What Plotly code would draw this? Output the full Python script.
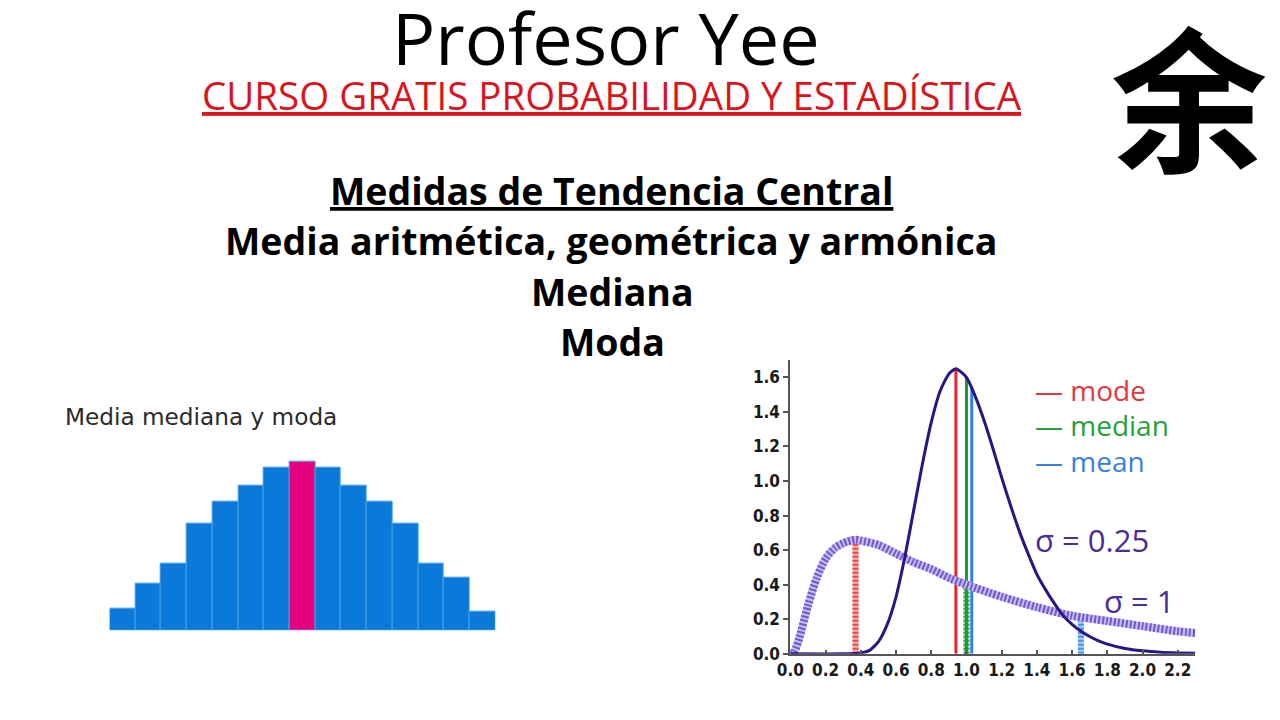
import plotly.graph_objects as go

W, H = 1280, 720


def px(x):
    return x / W


def py(y):
    return 1 - y / H


# ---------------- data ----------------
# Left histogram ("Media mediana y moda")
hist_bins = list(range(1, 16))
hist_freq = [22, 47, 67, 108, 130, 147, 165, 171, 165, 147, 130, 108, 67, 53, 19]
mode_bin = 8

# Right chart: log-normal densities
x_s025 = [0.0, 0.3, 0.4, 0.45, 0.5, 0.55, 0.6, 0.65, 0.7, 0.75, 0.8, 0.85, 0.9, 0.94,
          1.0, 1.05, 1.1, 1.15, 1.2, 1.25, 1.3, 1.35, 1.4, 1.45, 1.5, 1.55, 1.6, 1.65,
          1.7, 1.75, 1.8, 1.9, 2.0, 2.1, 2.2, 2.3]
y_s025 = [0.0, 0.0, 0.005, 0.02, 0.07, 0.17, 0.33, 0.56, 0.83, 1.10, 1.34, 1.52, 1.62, 1.65,
          1.60, 1.49, 1.35, 1.19, 1.02, 0.86, 0.71, 0.58, 0.46, 0.37, 0.29, 0.22, 0.17, 0.13,
          0.10, 0.075, 0.056, 0.031, 0.017, 0.009, 0.005, 0.003]

x_s1 = [0.0, 0.02, 0.05, 0.1, 0.15, 0.2, 0.25, 0.3, 0.37, 0.4, 0.5, 0.6, 0.7, 0.8, 0.9,
        1.0, 1.2, 1.4, 1.6, 1.8, 2.0, 2.2, 2.3]
y_s1 = [0.0, 0.01, 0.09, 0.28, 0.44, 0.55, 0.61, 0.64, 0.66, 0.655, 0.63, 0.58, 0.53, 0.49,
        0.44, 0.40, 0.33, 0.27, 0.22, 0.19, 0.16, 0.13, 0.12]

stat_names = ["mode", "median", "mean"]
stat_x_s025 = [0.94, 1.00, 1.03]
stat_y_s025 = [1.65, 1.60, 1.54]
stat_x_s1 = [0.37, 1.00, 1.65]
stat_y_s1 = [0.66, 0.40, 0.21]

sigma_labels = ["σ = 0.25", "σ = 1"]

# ---------------- styles ----------------
BAR_BLUE = "#0a79d9"
BAR_PINK = "#e5007d"
stat_solid = {"mode": "#e3252b", "median": "#1e9a32", "mean": "#2e82e2"}
stat_light = {"mode": "#f6b3b3", "median": "#a9dcb1", "mean": "#aacdf6"}
stat_dark = {"mode": "#ea4a4a", "median": "#34a848", "mean": "#4a94ea"}
legend_col = {"mode": "#e0383c", "median": "#26a038", "mean": "#3a80e0"}
CURVE_DARK = "#2b1585"
SIGMA_TXT = "#4a2e98"

fig = go.Figure()

# Histogram
bar_colors = [BAR_PINK if b == mode_bin else BAR_BLUE for b in hist_bins]
fig.add_trace(go.Bar(
    x=hist_bins, y=hist_freq, marker=dict(color=bar_colors, line=dict(color="#4aa0e6", width=1)),
    xaxis="x", yaxis="y", hoverinfo="skip"))

# Vertical stat lines for sigma = 1 (hatched look)
for name, xv, yv in zip(stat_names, stat_x_s1, stat_y_s1):
    fig.add_trace(go.Scatter(x=[xv, xv], y=[0, yv], mode="lines",
                             line=dict(color=stat_light[name], width=6),
                             xaxis="x2", yaxis="y2", hoverinfo="skip"))
    fig.add_trace(go.Scatter(x=[xv, xv], y=[0, yv], mode="lines",
                             line=dict(color=stat_dark[name], width=6, dash="2px,2px"),
                             xaxis="x2", yaxis="y2", hoverinfo="skip"))

# Vertical stat lines for sigma = 0.25 (solid)
for name, xv, yv in zip(stat_names, stat_x_s025, stat_y_s025):
    fig.add_trace(go.Scatter(x=[xv, xv], y=[0, yv], mode="lines",
                             line=dict(color=stat_solid[name], width=3),
                             xaxis="x2", yaxis="y2", hoverinfo="skip"))

# sigma = 1 curve (hatched)
fig.add_trace(go.Scatter(x=x_s1, y=y_s1, mode="lines",
                         line=dict(color="#c8bcf2", width=8, shape="spline", smoothing=0.8),
                         xaxis="x2", yaxis="y2", hoverinfo="skip"))
fig.add_trace(go.Scatter(x=x_s1, y=y_s1, mode="lines",
                         line=dict(color="#7258d2", width=8, shape="spline", smoothing=0.8,
                                   dash="2px,2px"),
                         xaxis="x2", yaxis="y2", hoverinfo="skip"))

# sigma = 0.25 curve
fig.add_trace(go.Scatter(x=x_s025, y=y_s025, mode="lines",
                         line=dict(color=CURVE_DARK, width=3, shape="spline", smoothing=0.6),
                         xaxis="x2", yaxis="y2", hoverinfo="skip"))

tick_font = dict(family="DejaVu Sans Condensed, DejaVu Sans", size=17, color="#1a1a1a",
                 weight="bold")

fig.update_layout(
    width=W, height=H,
    margin=dict(l=0, r=0, t=0, b=0),
    paper_bgcolor="white", plot_bgcolor="white",
    showlegend=False,
    bargap=0,
    xaxis=dict(domain=[px(96.7), px(486.7)], range=[0.5, 15.5], visible=False),
    yaxis=dict(domain=[py(639), py(639 - 180)], range=[0, 180], visible=False),
    xaxis2=dict(domain=[px(785), px(785 + 2.3 * 178)], range=[0, 2.3], anchor="y2",
                showline=True, linecolor="#555", linewidth=2, showgrid=False, zeroline=False,
                ticks="inside", ticklen=4, tickcolor="#555", tickwidth=2,
                tick0=0, dtick=0.2, tickformat=".1f", tickfont=tick_font),
    yaxis2=dict(domain=[py(663), py(663 - 1.7 * 175.2)], range=[0, 1.7], anchor="x2",
                showline=True, linecolor="#555", linewidth=2, showgrid=False, zeroline=False,
                ticks="outside", ticklen=5, tickcolor="#555", tickwidth=2,
                tick0=0, dtick=0.2, tickformat=".1f", tickfont=tick_font),
)

ann = []


def text(x, y, s, size, color="black", family="Open Sans", weight="normal", xanchor="center"):
    ann.append(dict(x=px(x), y=py(y), xref="paper", yref="paper", text=s, showarrow=False,
                    xanchor=xanchor, yanchor="middle",
                    font=dict(family=family, size=size, color=color, weight=weight)))


text(599, 38, "Profesor Yee", 72)
text(605, 96, "<u>CURSO GRATIS PROBABILIDAD Y ESTADÍSTICA</u>", 38.5, color="#d9141c")
text(604, 193, "<u>Medidas de Tendencia Central</u>", 37.5, weight="bold")
text(604, 244, "Media aritmética, geométrica y armónica", 37.5, weight="bold")
text(605, 296, "Mediana", 37.5, weight="bold")
text(605, 346, "Moda", 37.5, weight="bold")
text(50, 422, "Media mediana y moda", 23.2, color="#2a2a2a", family="DejaVu Sans", xanchor="left")
text(1188, 93, "余", 156, family="Noto Sans CJK SC", weight="bold")

for i, name in enumerate(stat_names):
    text(1030, 395 + i * 36, "— " + name, 28, color=legend_col[name], xanchor="left")

text(1030, 548, sigma_labels[0], 31, color=SIGMA_TXT, xanchor="left")
text(1100, 609, sigma_labels[1], 31, color=SIGMA_TXT, xanchor="left")

fig.update_layout(annotations=ann)
fig.write_html("out.html")
